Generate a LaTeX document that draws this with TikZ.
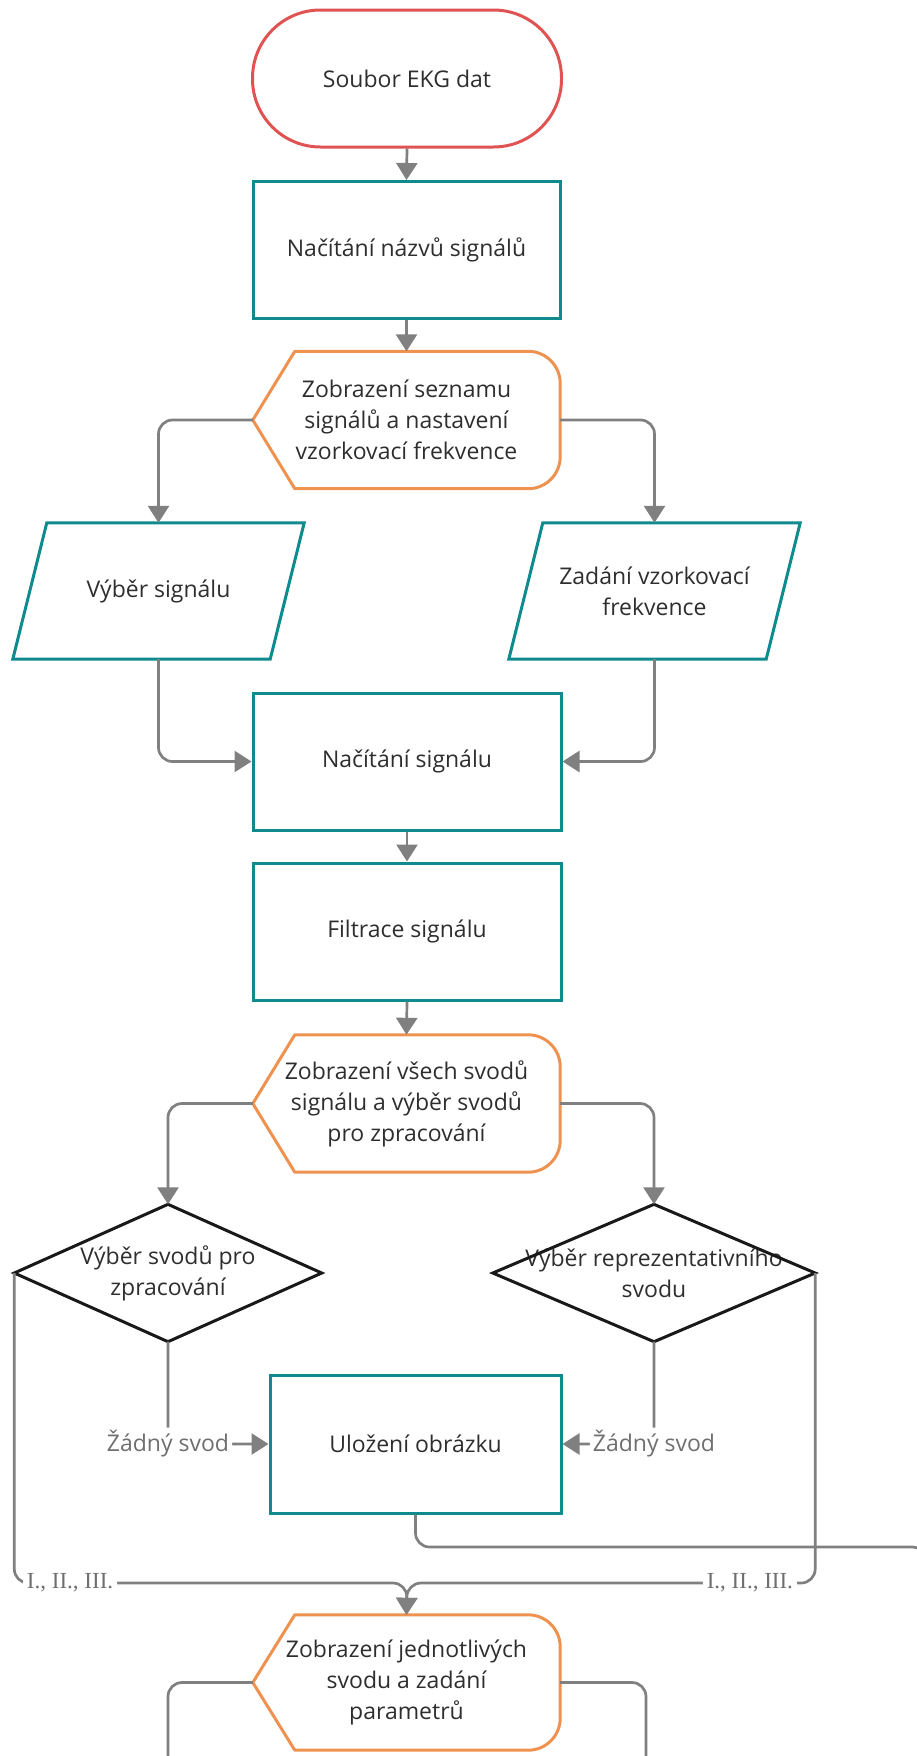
\documentclass[tikz,border=0pt]{standalone}
\usepackage{fontspec}
\setmainfont{Open Sans}
\newfontfamily\lblserif{Liberation Serif}
\usetikzlibrary{arrows.meta,calc}
\definecolor{termred}{HTML}{E05353}
\definecolor{procteal}{HTML}{0F8B8D}
\definecolor{disporange}{HTML}{EF9250}
\definecolor{conngray}{HTML}{808080}
\definecolor{txtdark}{HTML}{2E2E2E}
\definecolor{lblgray}{HTML}{6F6F6F}
\begin{document}
\begin{tikzpicture}[x=1pt,y=-1pt,
  every node/.style={font=\fontsize{23}{31}\selectfont, text=txtdark, align=center, inner sep=0pt},
  termbox/.style={rectangle, draw=termred, line width=3pt, rounded corners=68pt, minimum width=309pt, minimum height=137pt},
  procbox/.style={rectangle, draw=procteal, line width=3pt, minimum width=307pt, minimum height=137pt},
  plainbox/.style={rectangle, draw=none, minimum height=137pt},
  displine/.style={draw=disporange, line width=3pt, line join=round},
  paraline/.style={draw=procteal, line width=3pt, line join=miter},
  decline/.style={draw=black!90, line width=3pt, line join=miter},
  conn/.style={draw=conngray, line width=2.7pt, rounded corners=14pt, -{Triangle[width=21pt,length=17pt]}},
  connplain/.style={draw=conngray, line width=2.7pt, rounded corners=14pt},
  lbl/.style={fill=white, text=lblgray, inner sep=3pt},
  lblser/.style={fill=white, text=lblgray, inner sep=4pt, font=\lblserif\fontsize{23}{26}\selectfont}
]
\clip (0,0) rectangle (917,1756);
\useasboundingbox (0,0) rectangle (917,1756);

% nodes
\node[termbox] (T) at (407,78.5) {Soubor EKG dat};
\node[procbox] (R1) at (406.5,250) {Načítání názvů signálů};
\node[plainbox, minimum width=307pt] (D1) at (406.5,420) {Zobrazení seznamu\\signálů a nastavení\\vzorkovací frekvence};
\node[plainbox, minimum width=291pt, minimum height=136pt] (P1) at (158.5,591) {Výběr signálu};
\node[plainbox, minimum width=291pt, minimum height=136pt] (P2) at (654.5,591) {Zadání vzorkovací\\frekvence};
\node[procbox, minimum width=308pt] (R2) at (407,761.5) {Načítání signálu};
\node[procbox, minimum width=308pt] (R3) at (407,931.5) {Filtrace signálu};
\node[plainbox, minimum width=307pt] (D2) at (406.5,1103.5) {Zobrazení všech svodů\\signálu a výběr svodů\\pro zpracování};
\node[plainbox, minimum width=307pt] (Q1) at (168,1273) {Výběr svodů pro\\zpracování};
\node[plainbox, minimum width=322pt] (Q2) at (654,1273) {Výběr reprezentativního\\svodu};
\node[procbox, minimum width=291pt, minimum height=138pt] (R4) at (415.5,1444) {Uložení obrázku};
\node[plainbox, minimum width=307pt, minimum height=135pt] (D3) at (406.5,1682.5) {Zobrazení jednotlivých\\svodu a zadání\\parametrů};

% display outlines
\foreach \d in {D1,D2,D3}{
  \draw[displine] (\d.west) -- ([xshift=42pt]\d.north west) -- ([xshift=-32pt]\d.north east)
    arc[start angle=90,end angle=0,radius=32pt] -- ([yshift=32pt]\d.south east)
    arc[start angle=0,end angle=-90,radius=32pt] -- ([xshift=42pt]\d.south west) -- cycle;
}
% parallelograms
\foreach \p in {P1,P2}{
  \draw[paraline] (\p.south west) -- ([xshift=34pt]\p.north west) -- (\p.north east) -- ([xshift=-34pt]\p.south east) -- cycle;
}
% decisions
\foreach \q in {Q1,Q2}{
  \draw[decline] (\q.north) -- (\q.east) -- (\q.south) -- (\q.west) -- cycle;
}

% coordinates
\coordinate (M) at (407,1583);
\coordinate (E1) at (926,1547);
\coordinate (E2) at (926,1800);
\coordinate (X1) at (168,1800);
\coordinate (X2) at (646,1800);

% connectors
\draw[conn] (T.south) -- (R1.north);
\draw[conn] (R1.south) -- (D1.north);
\draw[conn] (D1.west) -| (P1.north);
\draw[conn] (D1.east) -| (P2.north);
\draw[conn] (P1.south) |- (R2.west);
\draw[conn] (P2.south) |- (R2.east);
\draw[conn] (R2.south) -- (R3.north);
\draw[conn] (R3.south) -- (D2.north);
\draw[conn] (D2.west) -| (Q1.north);
\draw[conn] (D2.east) -| (Q2.north);
\draw[conn] (Q1.south) |- node[lbl, pos=0.5] {Žádný svod} (R4.west);
\draw[conn] (Q2.south) |- node[lbl, pos=0.5] {Žádný svod} (R4.east);
\draw[connplain] (R4.south) |- (E1) -- (E2);
\draw[conn] (Q1.west) |- node[lblser, pos=0.571] {I., II., III.} (M) -- (D3.north);
\draw[conn] (Q2.east) |- node[lblser, pos=0.58] {I., II., III.} (M) -- (D3.north);
\draw[connplain] (D3.west) -| (X1);
\draw[connplain] (D3.east) -| (X2);
\end{tikzpicture}
\end{document}
